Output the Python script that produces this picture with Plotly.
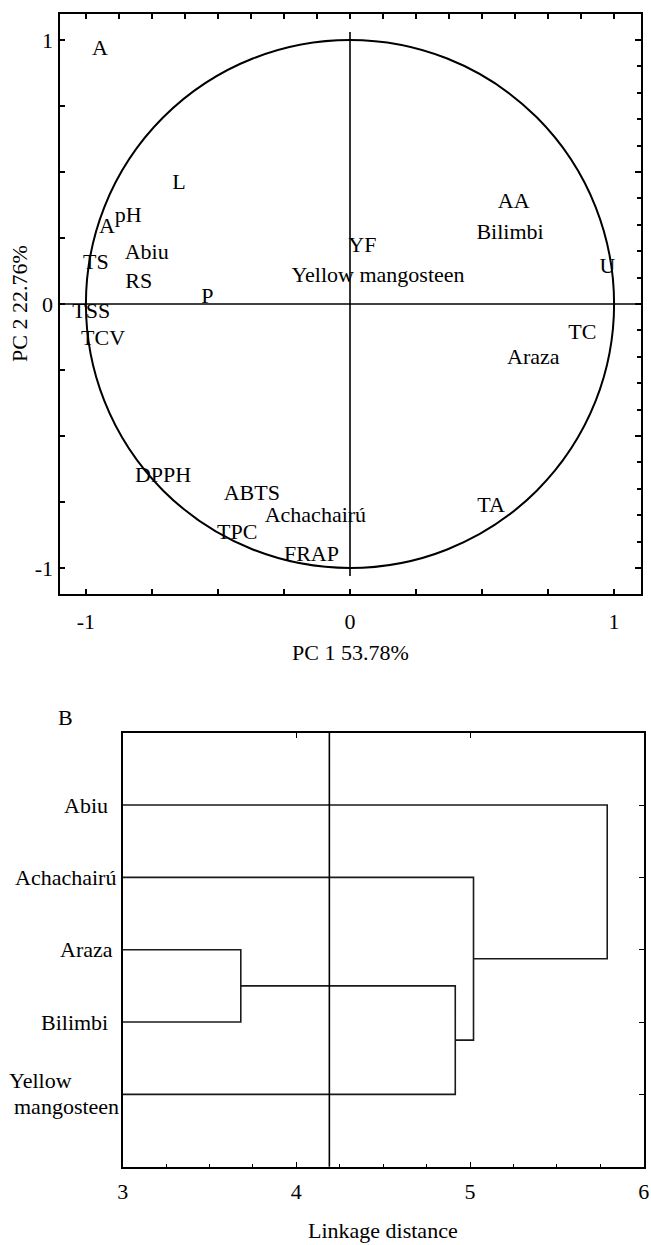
import plotly.graph_objects as go

# ---------------- Data ----------------
# PCA loadings / scores (PC1, PC2)
var_names = ["L", "A", "pH", "TS", "RS", "P", "TSS", "TCV", "DPPH", "ABTS",
             "TPC", "FRAP", "YF", "AA", "U", "TC", "TA"]
var_pc1 = [-0.648, -0.92, -0.84, -0.962, -0.80, -0.54, -0.98, -0.935, -0.708, -0.372,
           -0.427, -0.146, 0.047, 0.62, 0.975, 0.88, 0.534]
var_pc2 = [0.458, 0.288, 0.333, 0.155, 0.08, 0.023, -0.034, -0.133, -0.655, -0.72,
           -0.868, -0.951, 0.217, 0.386, 0.14, -0.11, -0.768]

fruit_names = ["Abiu", "Yellow mangosteen", "Bilimbi", "Araza", "Achachairú"]
fruit_pc1 = [-0.77, 0.106, 0.606, 0.694, -0.131]
fruit_pc2 = [0.193, 0.103, 0.268, -0.208, -0.806]

circle_radius = 1.0
pca_ticks = [-1, 0, 1]
pc1_title = "PC 1 53.78%"
pc2_title = "PC 2 22.76%"

# Dendrogram
leaves = ["Abiu", "Achachairú", "Araza", "Bilimbi", "Yellow mangosteen"]
# merges: (child_a, child_b, linkage distance); children are leaf names or merge indices
merges = [("Araza", "Bilimbi", 3.68),
          (0, "Yellow mangosteen", 4.915),
          ("Achachairú", 1, 5.02),
          ("Abiu", 2, 5.79)]
cut_distance = 4.19
dend_ticks = [3, 4, 5, 6]
dend_title = "Linkage distance"

# ---------------- Layout constants ----------------
W, H = 651, 1245
FONT = "Liberation Serif, Times New Roman, serif"
FS = 22
INK = "#000"

def px_x(p):
    return p / W

def px_y(p):
    return 1 - p / H

fig = go.Figure()

# ---------------- PCA panel ----------------
fig.add_trace(go.Scatter(x=var_pc1, y=var_pc2, text=var_names, mode="text",
                         textposition="middle center",
                         textfont=dict(family=FONT, size=FS, color=INK),
                         xaxis="x", yaxis="y", hoverinfo="skip", showlegend=False))
fig.add_trace(go.Scatter(x=fruit_pc1, y=fruit_pc2, text=fruit_names, mode="text",
                         textposition="middle center",
                         textfont=dict(family=FONT, size=FS, color=INK),
                         xaxis="x", yaxis="y", hoverinfo="skip", showlegend=False))
# invisible trace to activate top/right tick axes
fig.add_trace(go.Scatter(x=[var_pc1[0]], y=[var_pc2[0]], mode="markers",
                         marker=dict(opacity=0), xaxis="x3", yaxis="y3",
                         hoverinfo="skip", showlegend=False))

shapes = []
shapes.append(dict(type="circle", xref="x", yref="y",
                   x0=-circle_radius, x1=circle_radius,
                   y0=-circle_radius, y1=circle_radius,
                   line=dict(color="black", width=2)))
shapes.append(dict(type="line", xref="x", yref="y", x0=0, x1=0,
                   y0=-circle_radius * 1.03, y1=circle_radius * 1.03,
                   line=dict(color="black", width=1.6)))
shapes.append(dict(type="line", xref="x domain", yref="y", x0=0, x1=1,
                   y0=0, y1=0, line=dict(color="black", width=1.6)))

# ---------------- Dendrogram panel ----------------
leaf_pos = {name: i + 1 for i, name in enumerate(leaves)}
node_pos = []
node_h = []
seg_x, seg_y = [], []

def child_info(c):
    if isinstance(c, str):
        return leaf_pos[c], 0.0
    return node_pos[c], node_h[c]

for a, b, h in merges:
    pa, ha = child_info(a)
    pb, hb = child_info(b)
    seg_x += [ha, h, h, hb, None]
    seg_y += [pa, pa, pb, pb, None]
    node_pos.append((pa + pb) / 2)
    node_h.append(h)

fig.add_trace(go.Scatter(x=seg_x, y=seg_y, mode="lines",
                         line=dict(color="#1a1a1a", width=1.6),
                         xaxis="x2", yaxis="y2", hoverinfo="skip", showlegend=False))
fig.add_trace(go.Scatter(x=[cut_distance], y=[leaf_pos[leaves[0]]], mode="markers",
                         marker=dict(opacity=0), xaxis="x4", yaxis="y4",
                         hoverinfo="skip", showlegend=False))
shapes.append(dict(type="line", xref="x2", yref="y2 domain", x0=cut_distance, x1=cut_distance,
                   y0=0, y1=1, line=dict(color="black", width=1.6)))

# ---------------- Axes ----------------
pca_dom_x = [px_x(59.5), px_x(640.5)]
pca_dom_y = [px_y(594.4), px_y(13.6)]
den_dom_x = [px_x(122.7), px_x(643.7)]
den_dom_y = [px_y(1166.7), px_y(732.7)]

quarter = [i * 0.25 for i in range(-4, 5)]
eighth = [i * 0.125 for i in range(-8, 9)]
tenth = [round(i * 0.1, 2) for i in range(-10, 11)]
tick_font = dict(family=FONT, size=FS, color=INK)
pca_ticktext = ["%d" % v if v in pca_ticks else "" for v in quarter]

common = dict(showgrid=False, zeroline=False, fixedrange=True, automargin=False)

fig.update_layout(
    width=W, height=H, margin=dict(l=0, r=0, t=0, b=0, autoexpand=False),
    paper_bgcolor="white", plot_bgcolor="white",
    font=dict(family=FONT, size=FS, color=INK),
    shapes=shapes,
    xaxis=dict(domain=pca_dom_x, range=[-1.1, 1.1], anchor="y",
               tickmode="array", tickvals=quarter, ticktext=pca_ticktext,
               ticks="inside", ticklen=5, tickwidth=1.5, tickcolor="black",
               showline=True, linecolor="black", linewidth=2, mirror=True,
               tickfont=tick_font, ticklabelstandoff=6, **common),
    yaxis=dict(domain=pca_dom_y, range=[-1.1, 1.1], anchor="x",
               tickmode="array", tickvals=quarter, ticktext=pca_ticktext,
               ticks="inside", ticklen=5, tickwidth=1.5, tickcolor="black",
               showline=True, linecolor="black", linewidth=2, mirror=True,
               tickfont=tick_font, ticklabelstandoff=0, **common),
    xaxis3=dict(overlaying="x", side="top", range=[-1.1, 1.1], anchor="y3",
                tickmode="array", tickvals=eighth, showticklabels=False,
                ticks="inside", ticklen=5, tickwidth=1.5, tickcolor="black",
                showline=False, **common),
    yaxis3=dict(overlaying="y", side="right", range=[-1.1, 1.1], anchor="x3",
                tickmode="array", tickvals=[-1, -0.5, 0, 0.5, 1], showticklabels=False,
                ticks="inside", ticklen=6, tickwidth=1.5, tickcolor="black",
                minor=dict(tickvals=tenth, ticks="inside", ticklen=4, tickwidth=1.5,
                           tickcolor="black"),
                showline=False, **common),
    xaxis2=dict(domain=den_dom_x, range=[3, 6], anchor="y2",
                tickmode="array", tickvals=dend_ticks,
                ticks="inside", ticklen=5, tickwidth=1.3, tickcolor="black",
                minor=dict(dtick=0.25, tick0=3, ticks="inside", ticklen=3,
                           tickwidth=1.3, tickcolor="black"),
                showline=True, linecolor="black", linewidth=1.6, mirror=True,
                tickfont=tick_font, ticklabelstandoff=4, **common),
    yaxis2=dict(domain=den_dom_y, range=[len(leaves) + 1, 0], anchor="x2",
                showticklabels=False, ticks="",
                showline=True, linecolor="black", linewidth=1.6, mirror=True,
                **common),
    xaxis4=dict(overlaying="x2", side="top", range=[3, 6], anchor="y4",
                tickmode="array", tickvals=dend_ticks[1:-1], showticklabels=False,
                ticks="inside", ticklen=5, tickwidth=1.3, tickcolor="black",
                showline=False, **common),
    yaxis4=dict(overlaying="y2", side="right", range=[len(leaves) + 1, 0], anchor="x4",
                tickmode="array", tickvals=list(range(1, len(leaves) + 1)),
                showticklabels=False,
                ticks="inside", ticklen=5, tickwidth=1.3, tickcolor="black",
                showline=False, **common),
)

ann = []

def paper_text(text, xp, yp, angle=0):
    return dict(text=text, x=px_x(xp), y=px_y(yp), xref="paper", yref="paper",
                xanchor="center", yanchor="middle", textangle=angle,
                showarrow=False, font=dict(family=FONT, size=FS, color=INK))

# panel labels
ann.append(paper_text("A", 100, 48))
ann.append(paper_text("B", 65, 717.7))
# axis titles
ann.append(paper_text(pc1_title, 350, 652))
ann.append(paper_text(pc2_title, 19, 304, angle=-90))
ann.append(paper_text(dend_title, 383, 1230))

# dendrogram leaf labels
label_right = {"Abiu": 110, "Achachairú": 118, "Araza": 115, "Bilimbi": 110}
for name in leaves:
    if name in label_right:
        ann.append(dict(text=name, x=px_x(label_right[name]), y=leaf_pos[name],
                        xref="paper", yref="y2", xanchor="right", yanchor="middle",
                        showarrow=False, font=dict(family=FONT, size=FS, color=INK)))
    else:
        first, second = name.split(" ", 1)
        ann.append(dict(text=first, x=px_x(7), y=leaf_pos[name], yshift=13.5,
                        xref="paper", yref="y2", xanchor="left", yanchor="middle",
                        showarrow=False, font=dict(family=FONT, size=FS, color=INK)))
        ann.append(dict(text=second, x=px_x(12), y=leaf_pos[name], yshift=-12.5,
                        xref="paper", yref="y2", xanchor="left", yanchor="middle",
                        showarrow=False, font=dict(family=FONT, size=FS, color=INK)))

fig.update_layout(annotations=ann)

fig.write_html("out.html",
               config={"displayModeBar": False},
               post_script="document.body.style.margin='0px';"
                           "document.body.style.padding='0px';"
                           "document.documentElement.style.overflow='hidden';")
